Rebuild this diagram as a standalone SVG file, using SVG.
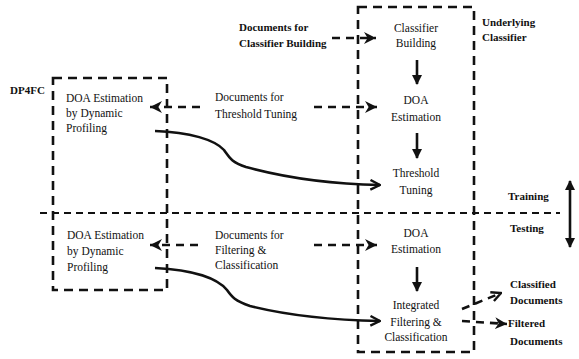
<svg xmlns="http://www.w3.org/2000/svg" width="579" height="359" viewBox="0 0 579 359" font-family="'Liberation Serif', 'DejaVu Serif', serif">
<style>
text{font-family:'Liberation Serif','DejaVu Serif',serif;fill:#111}
.n{font-size:11.5px}
.b{font-size:11px;font-weight:bold}
.m{text-anchor:middle}
.box{fill:none;stroke:#111;stroke-width:2.6;stroke-dasharray:9 6}
.sep{fill:none;stroke:#111;stroke-width:2;stroke-dasharray:7 5}
.dash{fill:none;stroke:#111;stroke-width:2.6;stroke-dasharray:8 6}
.solid{fill:none;stroke:#111;stroke-width:2.6}
</style>
<defs>
<marker id="chev" markerUnits="userSpaceOnUse" markerWidth="12" markerHeight="12" viewBox="0 0 10 10" refX="10" refY="5" orient="auto">
<path d="M0,0 L10,5 L0,10 L3,5 z" fill="#111"/>
</marker>
<marker id="open" markerUnits="userSpaceOnUse" markerWidth="12" markerHeight="12" viewBox="0 0 10 10" refX="9" refY="5" orient="auto">
<path d="M1,1 L9,5 L1,9" fill="none" stroke="#111" stroke-width="2"/>
</marker>
<marker id="tri" markerUnits="userSpaceOnUse" markerWidth="10" markerHeight="10" viewBox="0 0 10 10" refX="9" refY="5" orient="auto">
<path d="M0,0 L10,5 L0,10 z" fill="#111"/>
</marker>
<marker id="tris" markerUnits="userSpaceOnUse" markerWidth="10" markerHeight="10" viewBox="0 0 10 10" refX="9" refY="5" orient="auto-start-reverse">
<path d="M0,0 L10,5 L0,10 z" fill="#111"/>
</marker>
</defs>

<g id="dp4fc-frame">
<rect class="box" x="53" y="78" width="114" height="212"/>
<text class="b" x="10" y="94">DP4FC</text>
</g>

<g id="classifier-frame">
<rect class="box" x="358" y="7" width="116" height="345"/>
<text class="b" x="482" y="26">Underlying</text>
<text class="b" x="482" y="41">Classifier</text>
</g>

<g id="phase-separator">
<line class="sep" x1="40" y1="213" x2="560" y2="213"/>
<text class="b" x="508" y="200">Training</text>
<text class="b" x="510" y="232">Testing</text>
</g>

<g id="doa-dp-train">
<text class="n" x="66" y="102">DOA Estimation</text>
<text class="n" x="66" y="117">by Dynamic</text>
<text class="n" x="66" y="132">Profiling</text>
</g>

<g id="doa-dp-test">
<text class="n" x="67" y="239">DOA Estimation</text>
<text class="n" x="67" y="255">by Dynamic</text>
<text class="n" x="67" y="271">Profiling</text>
</g>

<g id="docs-building">
<text class="b" x="239" y="31">Documents for</text>
<text class="b" x="239" y="47">Classifier Building</text>
</g>

<g id="docs-threshold">
<text class="n" x="215" y="101">Documents for</text>
<text class="n" x="215" y="118">Threshold Tuning</text>
</g>

<g id="docs-filtering">
<text class="n" x="215" y="239">Documents for</text>
<text class="n" x="215" y="254">Filtering &amp;</text>
<text class="n" x="215" y="269">Classification</text>
</g>

<g id="classifier-building">
<text class="n m" x="416" y="32">Classifier</text>
<text class="n m" x="416" y="47">Building</text>
</g>

<g id="doa-train">
<text class="n m" x="416" y="104">DOA</text>
<text class="n m" x="416" y="121">Estimation</text>
</g>

<g id="threshold-tuning">
<text class="n m" x="416" y="177">Threshold</text>
<text class="n m" x="416" y="194">Tuning</text>
</g>

<g id="doa-test">
<text class="n m" x="416" y="237">DOA</text>
<text class="n m" x="416" y="253">Estimation</text>
</g>

<g id="integrated">
<text class="n m" x="416" y="309">Integrated</text>
<text class="n m" x="416" y="326">Filtering &amp;</text>
<text class="n m" x="416" y="341">Classification</text>
</g>

<g id="classified-docs">
<text class="b" x="510" y="288">Classified</text>
<text class="b" x="510" y="304">Documents</text>
</g>

<g id="filtered-docs">
<text class="b" x="508" y="327">Filtered</text>
<text class="b" x="510" y="345">Documents</text>
</g>

<g id="connectors">
<line class="dash" x1="332" y1="38" x2="376" y2="38" marker-end="url(#chev)"/>
<line class="dash" x1="200" y1="107" x2="150" y2="107" marker-end="url(#chev)"/>
<line class="dash" x1="314" y1="107" x2="377" y2="107" marker-end="url(#chev)"/>
<line class="dash" x1="198" y1="245" x2="150" y2="245" marker-end="url(#chev)"/>
<line class="dash" x1="314" y1="245" x2="377" y2="245" marker-end="url(#chev)"/>
<line class="solid" x1="417" y1="60" x2="417" y2="84" marker-end="url(#tri)"/>
<line class="solid" x1="417" y1="133" x2="417" y2="158" marker-end="url(#tri)"/>
<line class="solid" x1="417" y1="267" x2="417" y2="291" marker-end="url(#tri)"/>
<path class="solid" d="M155,131 C190,132 215,140 224,150 C229,157 231,162 246,167 C290,179 330,184 380,185" marker-end="url(#open)"/>
<path class="solid" d="M155,268 C195,270 218,279 227,290 C232,297 235,301 250,306 C290,316 330,320 380,321" marker-end="url(#open)"/>
<line class="dash" x1="462" y1="309" x2="501" y2="293" marker-end="url(#open)"/>
<line class="dash" x1="462" y1="321" x2="507" y2="324" marker-end="url(#chev)"/>
<line class="solid" x1="570" y1="181" x2="570" y2="247" marker-start="url(#tris)" marker-end="url(#tris)"/>
</g>
</svg>
